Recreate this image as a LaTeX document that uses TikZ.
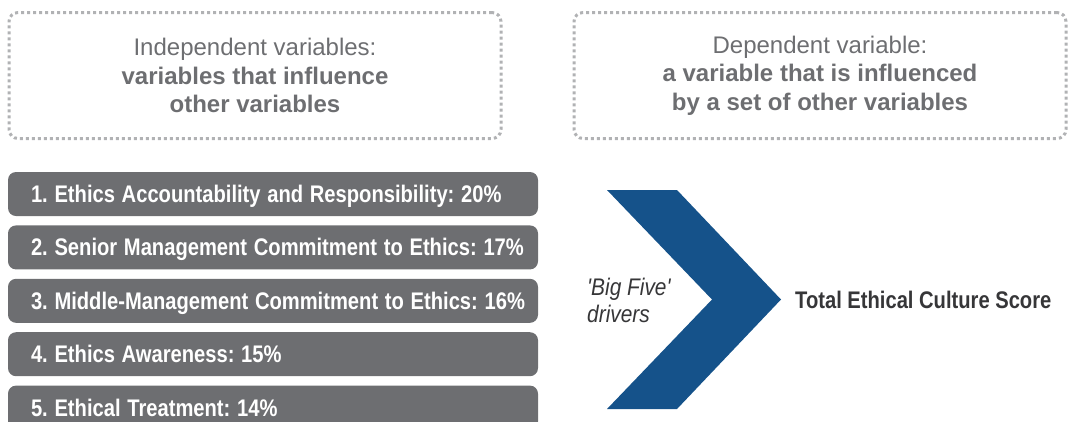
\documentclass[tikz,border=0pt]{standalone}
\usepackage{fontspec}
\usepackage{graphicx}
\setmainfont{Liberation Sans}
\frenchspacing
\newcommand\cond[1]{\scalebox{0.84}[1]{#1}}
\newcommand\condit[1]{\scalebox{0.87}[1]{#1}}
\usetikzlibrary{positioning}
\definecolor{bargray}{HTML}{6D6E71}
\definecolor{dotgray}{HTML}{B1B2B4}
\definecolor{chevblue}{HTML}{15528A}
\definecolor{darktext}{HTML}{363638}

\begin{document}
\begin{tikzpicture}[
    x=1pt, y=-1pt,
    head/.style={draw=dotgray, line width=3pt, dash pattern=on 3pt off 3pt, rounded corners=9pt,
        minimum width=492pt, minimum height=126pt, align=center, text=bargray,
        font=\fontsize{24}{28.5}\selectfont},
    block/.style={rectangle, rounded corners=8pt, fill=bargray, text=white,
        font=\bfseries\fontsize{24}{28}\selectfont,
        minimum height=44pt, text width=484pt, inner xsep=23pt, align=left,
        text height=17pt, text depth=0pt},
    label/.style={inner sep=0pt, text=darktext},
]
    \useasboundingbox (0,0) rectangle (1068,421);

    \node[head] (H1) at (255,75.5) {Independent variables:\\ \textbf{variables that influence}\\ \textbf{other variables}};
    \node[head] (H2) at (820,75.5) {Dependent variable:\\ \textbf{a variable that is influenced}\\ \textbf{by a set of other variables}};

    \node[block] (B1) at (273,194) {\cond{1. Ethics Accountability and Responsibility: 20\%}};
    \node[block] (B2) [below=9pt of B1] {\cond{2. Senior Management Commitment to Ethics: 17\%}};
    \node[block] (B3) [below=9pt of B2] {\cond{3. Middle-Management Commitment to Ethics: 16\%}};
    \node[block] (B4) [below=9pt of B3] {\cond{4. Ethics Awareness: 15\%}};
    \node[block] (B5) [below=9pt of B4] {\cond{5. Ethical Treatment: 14\%}};

    \coordinate (tip) at (781,299.5);
    \fill[chevblue] (607,190) -- (677,190) -- (tip) -- (677,409) -- (607,409) -- (712,299.5) -- cycle;

    \node[label, anchor=west, align=left, font=\itshape\fontsize{24}{27}\selectfont] (drivers) at (587,300) {\condit{\textquotesingle Big Five\textquotesingle}\\\condit{drivers}};
    \node[label, font=\bfseries\fontsize{24}{28}\selectfont] (total) [right=14pt of tip] {\cond{Total Ethical Culture Score}};
\end{tikzpicture}
\end{document}
